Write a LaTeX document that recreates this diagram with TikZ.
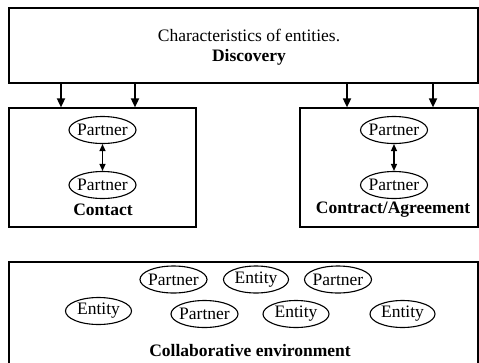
\documentclass[tikz,border=0pt]{standalone}
\usepackage{fontspec}
\setmainfont{Liberation Serif}
\usetikzlibrary{shapes.geometric,arrows.meta}
\newcommand{\ctext}[1]{\makebox[0pt]{#1}}
\begin{document}
\begin{tikzpicture}[x=1pt,y=-1pt,
  every node/.style={font=\fontsize{17.5}{19.5}\selectfont},
  panel/.style={draw, line width=1.2pt, rectangle, inner sep=0pt},
  party/.style={draw, ellipse, line width=1.1pt, inner sep=0pt, minimum width=67pt, minimum height=27pt},
  label/.style={font=\fontsize{17.5}{19.5}\selectfont\bfseries, inner sep=0pt},
  feed/.style={line width=1.7pt, -{Triangle[length=9pt,width=8pt]}},
  link/.style={line width=1.3pt, {Triangle[length=7pt,width=6pt]}-{Triangle[length=7pt,width=6pt]}}]
\useasboundingbox (0,0) rectangle (479,362);
\clip (0,0) rectangle (479,362);

% panels
\node[panel, minimum width=469pt, minimum height=75pt] (top) at (243.5,45.5) {};
\node[panel, minimum width=187pt, minimum height=119pt] (contact) at (102.5,167.5) {};
\node[panel, minimum width=178pt, minimum height=119pt] (contract) at (389,167.5) {};
\node[panel, minimum width=469pt, minimum height=112pt] (env) at (243.5,318) {};

% discovery heading
\node[align=center, inner sep=0pt] (head) at (249,47) {Characteristics of entities.\\\textbf{Discovery}};

% feeds from discovery into the two relationship panels
\coordinate (f1) at (61,0);
\coordinate (f2) at (135,0);
\coordinate (f3) at (347,0);
\coordinate (f4) at (433,0);
\draw[feed] (top.south -| f1) -- (contact.north -| f1);
\draw[feed] (top.south -| f2) -- (contact.north -| f2);
\draw[feed] (top.south -| f3) -- (contract.north -| f3);
\draw[feed] (top.south -| f4) -- (contract.north -| f4);

% contact
\node[party] (c1) at (102.5,130) {\ctext{Partner}};
\node[party] (c2) at (102.5,185) {\ctext{Partner}};
\draw[link] (c1) -- (c2);
\node[label] (cl) at (103,210) {Contact};

% contract / agreement
\node[party] (k1) at (394,130) {\ctext{Partner}};
\node[party] (k2) at (394,185) {\ctext{Partner}};
\draw[link] (k1) -- (k2);
\node[label] (kl) at (393,210) {Contract/Agreement};

% collaborative environment
\node[party] (e1) at (173.5,279.5) {\ctext{Partner}};
\node[party, minimum width=65pt] (e2) at (256,279.5) {\ctext{Entity}};
\node[party] (e3) at (338,279.5) {\ctext{Partner}};
\node[party, minimum width=66pt] (e4) at (98.5,311) {\ctext{Entity}};
\node[party] (e5) at (204.5,314) {\ctext{Partner}};
\node[party, minimum width=66pt] (e6) at (296,314) {\ctext{Entity}};
\node[party, minimum width=65pt] (e7) at (402.5,314) {\ctext{Entity}};
\node[label] (el) at (250,351) {Collaborative environment};
\end{tikzpicture}
\end{document}
